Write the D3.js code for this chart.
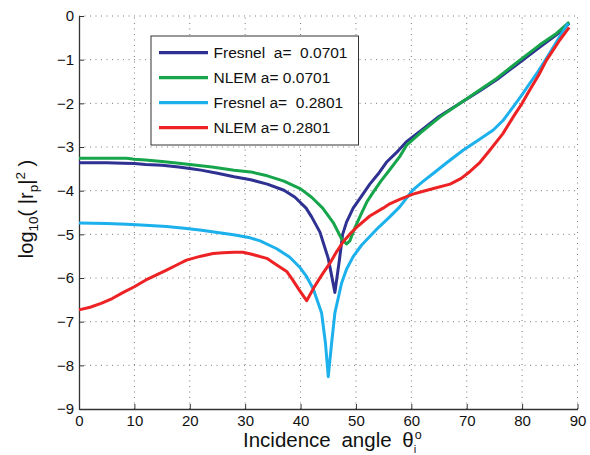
<!DOCTYPE html>
<html>
<head>
<meta charset="utf-8">
<script src="https://cdn.jsdelivr.net/npm/d3@7"></script>
<style>
  body { margin: 0; background: #fff; }
  svg { display: block; font-family: "Liberation Sans", Arial, sans-serif; }
</style>
</head>
<body>
<svg id="chart"></svg>
<script>
// Data (angle in degrees, log10 |rp|^2)
const fresnel1Angle = [0, 5, 8, 10, 12, 15, 18, 20, 22, 25, 28, 31, 34, 37, 39, 41, 42, 43.5, 45, 46.2, 47, 47.6, 48.3, 49.5, 50.7, 52.5, 54, 55.5, 57.3, 59.2, 61.6, 65, 68.8, 72.4, 75.4, 79.6, 83.2, 86.2, 88.5];
const fresnel1Value = [-3.36, -3.36, -3.37, -3.38, -3.40, -3.42, -3.46, -3.49, -3.53, -3.60, -3.68, -3.75, -3.85, -3.99, -4.15, -4.40, -4.60, -4.95, -5.55, -6.33, -5.60, -5.00, -4.72, -4.40, -4.18, -3.85, -3.62, -3.35, -3.13, -2.87, -2.64, -2.30, -2.00, -1.71, -1.46, -1.06, -0.71, -0.43, -0.17];

const nlem1Angle = [0, 5, 8.6, 10, 12, 15, 18, 20, 24, 28, 31, 34, 37, 40, 42, 44, 45.9, 47.4, 48.3, 48.9, 49.8, 50.7, 52, 53.1, 54.5, 56.1, 57.9, 59.2, 61.6, 65.2, 68.8, 72.4, 75.4, 79.6, 83.2, 86.2, 88.5];
const nlem1Value = [-3.26, -3.26, -3.26, -3.28, -3.30, -3.33, -3.37, -3.40, -3.46, -3.53, -3.57, -3.66, -3.78, -3.96, -4.15, -4.40, -4.73, -5.10, -5.22, -5.15, -4.85, -4.60, -4.25, -4.04, -3.78, -3.52, -3.22, -2.95, -2.68, -2.31, -2.00, -1.69, -1.43, -1.01, -0.66, -0.40, -0.14];

const fresnel2Angle = [0, 5, 8.6, 12, 15.8, 19, 21.8, 25, 27.9, 30.9, 32.7, 35.7, 38, 39.9, 41, 42.3, 43.8, 44.5, 45, 45.6, 46.2, 47.4, 48.3, 49.5, 51, 52.5, 54, 56.1, 57.9, 60.3, 62, 64, 66.5, 69.4, 72, 74.8, 76.5, 78.4, 80, 81.4, 83, 84.4, 85.6, 86.8, 88.3];
const fresnel2Value = [-4.74, -4.75, -4.77, -4.79, -4.82, -4.86, -4.90, -4.96, -5.01, -5.08, -5.15, -5.33, -5.52, -5.76, -5.95, -6.25, -6.80, -7.50, -8.26, -7.50, -6.80, -6.12, -5.80, -5.51, -5.25, -5.05, -4.85, -4.60, -4.37, -3.98, -3.80, -3.60, -3.35, -3.07, -2.85, -2.61, -2.40, -2.08, -1.80, -1.54, -1.25, -0.97, -0.72, -0.47, -0.17];

const nlem2Angle = [0, 2, 4, 6, 8, 10, 12, 14, 15.8, 18, 19.4, 22, 24.2, 26, 28, 29.6, 31, 33.9, 35.7, 37.5, 38.6, 39.9, 41.1, 42.5, 44, 45.3, 46.5, 47.7, 49, 50.1, 52.5, 54.9, 56.1, 57.9, 60.3, 62, 64, 67, 69, 70.6, 72.4, 74.2, 76.5, 78.4, 80, 81.4, 83, 84.4, 85.6, 86.8, 88.5];
const nlem2Value = [-6.73, -6.67, -6.58, -6.47, -6.33, -6.20, -6.05, -5.93, -5.82, -5.68, -5.59, -5.50, -5.44, -5.42, -5.41, -5.41, -5.45, -5.55, -5.70, -5.85, -6.05, -6.30, -6.52, -6.20, -5.90, -5.66, -5.40, -5.17, -4.98, -4.84, -4.58, -4.40, -4.30, -4.20, -4.08, -4.02, -3.95, -3.85, -3.72, -3.56, -3.35, -3.07, -2.70, -2.31, -2.00, -1.69, -1.35, -1.01, -0.78, -0.55, -0.26];

const seriesNames = ["Fresnel  a=  0.0701", "NLEM a= 0.0701", "Fresnel a=  0.2801", "NLEM a= 0.2801"];
const seriesColors = ["#2e3191", "#16a54b", "#1cb1ec", "#ed2224"];
const xTicks = [0, 10, 20, 30, 40, 50, 60, 70, 80, 90];
const yTicks = [0, -1, -2, -3, -4, -5, -6, -7, -8, -9];

const series = [
  [fresnel1Angle, fresnel1Value],
  [nlem1Angle, nlem1Value],
  [fresnel2Angle, fresnel2Value],
  [nlem2Angle, nlem2Value]
].map(([a, v], i) => ({
  name: seriesNames[i],
  color: seriesColors[i],
  points: a.map((x, j) => ({ x: x, y: v[j] }))
}));

const width = 590;
const height = 455;
const margin = { top: 16, right: 12.5, bottom: 46, left: 79 };

const svg = d3.select("#chart")
  .attr("width", width)
  .attr("height", height);

const x = d3.scaleLinear().domain([0, 90]).range([margin.left, width - margin.right]);
const y = d3.scaleLinear().domain([-9, 0]).range([height - margin.bottom, margin.top]);

// grid (dotted)
const grid = svg.append("g").attr("stroke", "#7a7a7a").attr("stroke-width", 1)
  .attr("stroke-dasharray", "1,4.5");
grid.selectAll(".gx").data(xTicks.slice(1)).enter().append("line")
  .attr("x1", d => x(d)).attr("x2", d => x(d))
  .attr("y1", y(-9)).attr("y2", y(0));
grid.selectAll(".gy").data(yTicks.slice(0, -1)).enter().append("line")
  .attr("x1", x(0)).attr("x2", x(90))
  .attr("y1", d => y(d)).attr("y2", d => y(d));

// axes
const xAxis = svg.append("g")
  .attr("transform", `translate(0,${y(-9)})`)
  .call(d3.axisBottom(x).tickValues(xTicks).tickSizeInner(-5).tickSizeOuter(0).tickPadding(6.5));
const yAxis = svg.append("g")
  .attr("transform", `translate(${x(0)},0)`)
  .call(d3.axisLeft(y).tickValues(yTicks).tickSizeInner(-5).tickSizeOuter(0).tickPadding(5));

[xAxis, yAxis].forEach(ax => {
  ax.select(".domain").attr("stroke", "#333").attr("stroke-width", 1.3);
  ax.selectAll(".tick line").attr("stroke", "#333").attr("stroke-width", 1);
  ax.selectAll(".tick text").attr("fill", "#111").style("font-size", "15px")
    .style("font-family", "'Liberation Sans', Arial, sans-serif");
});

// lines
const line = d3.line().x(d => x(d.x)).y(d => y(d.y));
svg.append("g").selectAll("path")
  .data(series)
  .enter().append("path")
  .attr("fill", "none")
  .attr("stroke", d => d.color)
  .attr("stroke-width", 3)
  .attr("stroke-linejoin", "round")
  .attr("d", d => line(d.points));

// legend
const legend = svg.append("g");
legend.append("rect")
  .attr("x", 151).attr("y", 36)
  .attr("width", 207.5).attr("height", 109)
  .attr("fill", "#fff").attr("stroke", "#333").attr("stroke-width", 1);
const rows = legend.selectAll(".row").data(series).enter().append("g")
  .attr("transform", (d, i) => `translate(0,${52.7 + i * 25})`);
rows.append("line")
  .attr("x1", 159).attr("x2", 208)
  .attr("stroke", d => d.color).attr("stroke-width", 3.2);
rows.append("text")
  .attr("x", 213.5).attr("y", 5.6)
  .style("font-size", "15.5px").style("white-space", "pre")
  .attr("fill", "#111")
  .text(d => d.name);

// x label: main text plus theta super/subscripts placed after it
const xt = svg.append("text")
  .attr("x", 243).attr("y", 447)
  .style("font-size", "20.5px").style("word-spacing", "5px").attr("fill", "#111")
  .text("Incidence angle θ");
const xEnd = 243 + xt.node().getComputedTextLength();
svg.append("text")
  .attr("x", xEnd + 1).attr("y", 438.5)
  .style("font-size", "12.5px").attr("fill", "#111")
  .text("o");
svg.append("text")
  .attr("x", xEnd).attr("y", 452.5)
  .style("font-size", "11px").attr("fill", "#111")
  .text("i");

// y label
const yl = svg.append("text")
  .attr("transform", `translate(33,209) rotate(-90)`)
  .attr("text-anchor", "middle")
  .style("font-size", "20px").attr("fill", "#111");
yl.append("tspan").text("log");
yl.append("tspan").attr("dy", 5).style("font-size", "13.5px").text("10");
yl.append("tspan").attr("dy", -5).text("( |r");
yl.append("tspan").attr("dy", 5).style("font-size", "13.5px").text("p");
yl.append("tspan").attr("dy", -5).text("|");
yl.append("tspan").attr("dy", -8).style("font-size", "13.5px").text("2");
yl.append("tspan").attr("dy", 8).text(" )");
</script>
</body>
</html>
